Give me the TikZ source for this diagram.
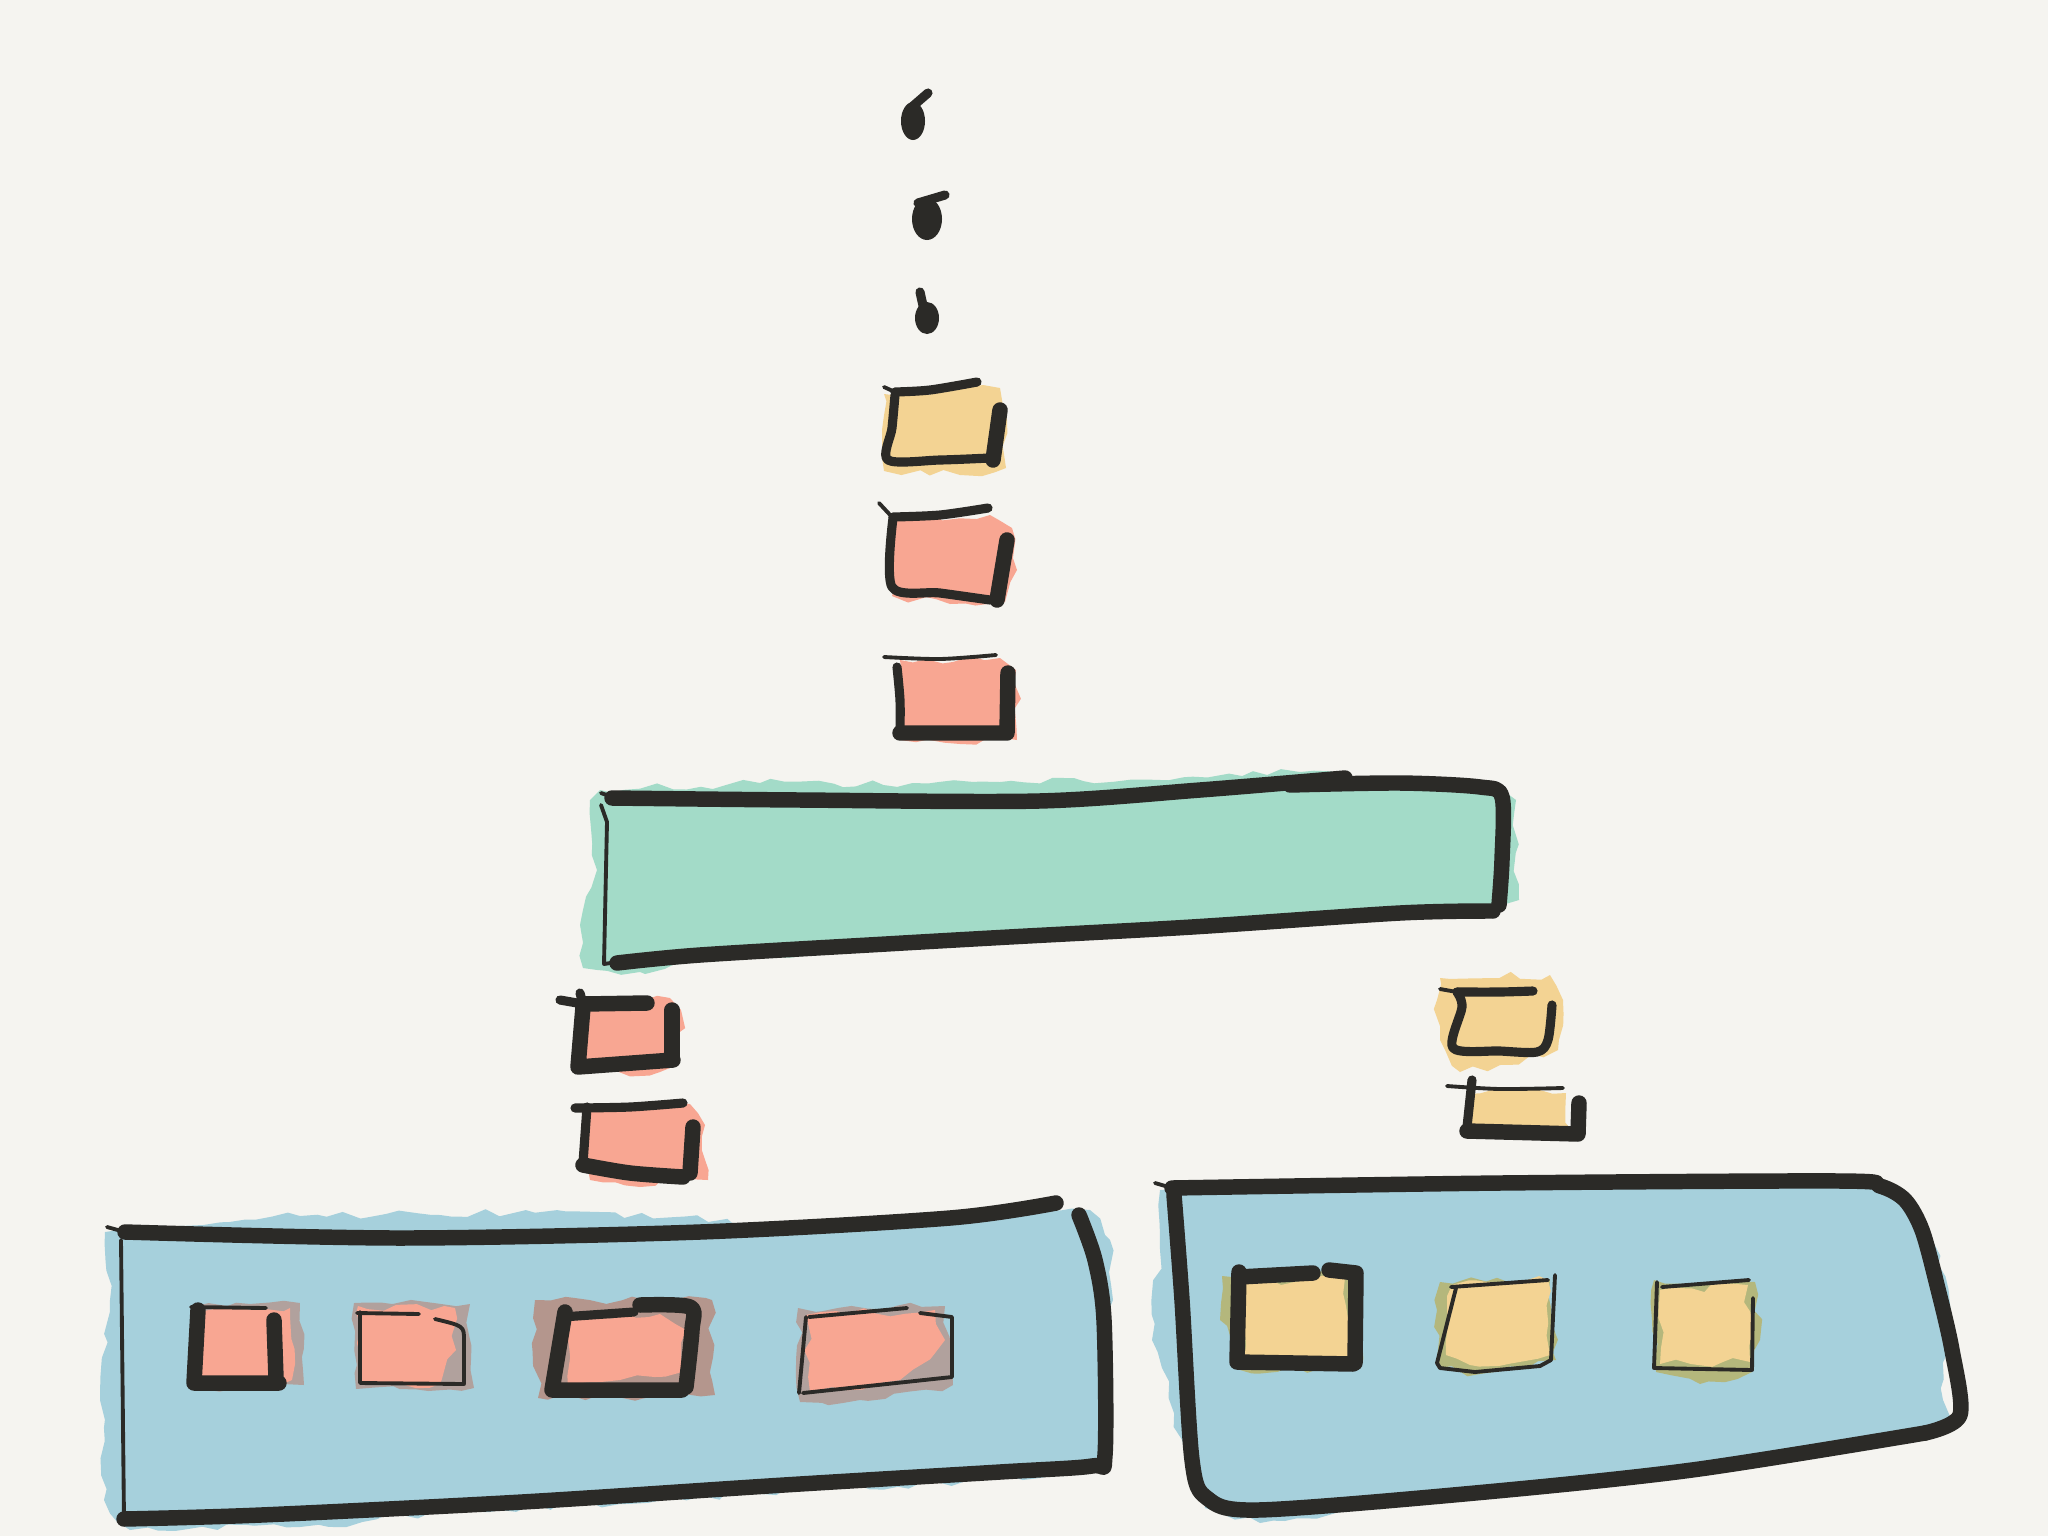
\documentclass[tikz,border=0pt]{standalone}
\usepackage{xcolor}
\usepackage{tikz}
\usetikzlibrary{decorations.pathmorphing}

\definecolor{paper}{HTML}{F5F4F0}
\definecolor{ink}{HTML}{2B2A27}
\definecolor{sand}{HTML}{F3D393}
\definecolor{salmon}{HTML}{F8A692}
\definecolor{mint}{HTML}{A3DBC8}
\definecolor{sky}{HTML}{A6D0DC}
\definecolor{olive}{HTML}{B4B77C}
\definecolor{rust}{HTML}{B98373}

\tikzset{
  wash/.style={fill=#1, decorate, decoration={random steps, segment length=4pt, amplitude=1.3pt}},
  fat/.style={draw=ink, line width=4.4pt, line cap=round, line join=round},
  mid/.style={draw=ink, line width=2.6pt, line cap=round, line join=round},
  fine/.style={draw=ink, line width=1.1pt, line cap=round, line join=round}
}

\begin{document}
\begin{tikzpicture}[x=0.01cm, y=-0.01cm]
  \pgfmathsetseed{42}
  \fill[paper] (0,0) rectangle (2048,1536);
  \useasboundingbox (0,0) rectangle (2048,1536);

  \fill[ink] (913,121) ellipse [x radius=0.12cm, y radius=0.19cm];
  \draw[mid] (913,106) -- (928,93);
  \fill[ink] (927,219) ellipse [x radius=0.15cm, y radius=0.21cm];
  \draw[mid] (918,203) -- (945,195);
  \fill[ink] (927,318) ellipse [x radius=0.12cm, y radius=0.16cm];
  \draw[mid] (920,292) -- (924,310);

  \path[wash=sand] (884,394) -- (1000,388) -- (1007,420) -- (1006,468) -- (960,475) -- (884,471) -- (882,430) -- cycle;
  \draw[fine] (884,387) -- (895,392);
  \draw[mid] plot[smooth] coordinates {(895,392) (930,390) (977,382)};
  \draw[mid] plot[smooth] coordinates {(895,395) (892,428) (888,460) (940,460) (990,458)};
  \draw[fat] (1000,410) -- (993,460);

  \path[wash=salmon] (890,520) -- (990,515) -- (1012,528) -- (1017,570) -- (1005,602) -- (950,604) -- (892,596) -- (889,560) -- cycle;
  \draw[fine] (879,503) -- (892,517);
  \draw[mid] plot[smooth] coordinates {(893,517) (940,515) (988,508)};
  \draw[mid] plot[smooth] coordinates {(893,518) (892,587) (940,593) (990,600)};
  \draw[fat] (1007,540) -- (997,600);

  \path[wash=salmon] (900,660) -- (1000,658) -- (1016,670) -- (1017,740) -- (960,744) -- (900,740) -- (897,700) -- cycle;
  \draw[fine] plot[smooth] coordinates {(884,657) (940,659) (996,655)};
  \draw[mid] plot[smooth] coordinates {(897,667) (900,700) (900,730)};
  \draw[fat] (900,733) -- (1007,733) -- (1008,673);

  \path[wash=mint] (600,790) -- (760,783) -- (1000,782) -- (1300,772) -- (1500,788) -- (1516,800) -- (1519,900) -- (1495,913) -- (1200,925) -- (900,940) -- (640,972) -- (583,968) -- (580,925) -- (597,870) -- (590,800) -- cycle;
  \draw[fine] (601,793) -- (612,797);
  \draw[fat] plot[smooth] coordinates {(612,798) (800,800) (1039,801) (1200,790) (1345,778)};
  \draw[fat] plot[smooth] coordinates {(1290,785) (1400,783) (1480,787) (1502,797) (1502,860) (1499,905)};
  \draw[fat] plot[smooth] coordinates {(1493,911) (1400,913) (1192,927) (1009,937) (886,944) (700,955) (617,963)};
  \draw[fine] (601,805) -- (607,822) -- (604,964) -- (617,962);

  \path[wash=salmon] (584,1000) -- (670,998) -- (681,1010) -- (680,1060) -- (660,1072) -- (585,1073) -- (580,1030) -- cycle;
  \draw[mid] (560,1000) -- (583,1004);
  \draw[mid] (580,993) -- (583,1004);
  \draw[fat] (583,1004) -- (647,1003);
  \draw[fat] (583,1007) -- (578,1067) -- (673,1060);
  \draw[fat] (672,1010) -- (672,1057);

  \path[wash=salmon] (592,1108) -- (690,1104) -- (705,1125) -- (708,1180) -- (640,1187) -- (590,1180) -- (588,1140) -- cycle;
  \draw[mid] plot[smooth] coordinates {(575,1108) (630,1107) (683,1103)};
  \draw[mid] (587,1107) -- (583,1163);
  \draw[fat] plot[smooth] coordinates {(583,1165) (630,1173) (683,1177)};
  \draw[fat] (693,1127) -- (690,1173);

  \path[wash=sand] (1440,978) -- (1550,975) -- (1563,1000) -- (1558,1050) -- (1500,1065) -- (1460,1072) -- (1440,1040) -- (1437,1000) -- cycle;
  \draw[fine] (1440,989) -- (1457,992);
  \draw[mid] plot[smooth] coordinates {(1457,992) (1500,992) (1533,991)};
  \draw[mid] plot[smooth] coordinates {(1457,992) (1462,1007) (1453,1048) (1500,1051) (1537,1052) (1548,1040) (1552,1005)};

  \path[wash=sand] (1466,1094) -- (1566,1093) -- (1570,1128) -- (1470,1130) -- cycle;
  \draw[fine] plot[smooth] coordinates {(1447,1086) (1500,1089) (1563,1088)};
  \draw[mid] (1472,1080) -- (1467,1127);
  \draw[fat] (1467,1131) -- (1578,1134) -- (1579,1103);

  \path[wash=sky] (105,1232) -- (300,1216) -- (600,1212) -- (750,1224) -- (1090,1210) -- (1110,1240) -- (1113,1300) -- (1100,1380) -- (1112,1460) -- (1080,1475) -- (800,1490) -- (500,1510) -- (300,1527) -- (130,1530) -- (104,1500) -- (100,1400) -- (110,1300) -- cycle;
  \draw[fine] (107,1227) -- (125,1232);
  \draw[fat] plot[smooth] coordinates {(125,1232) (400,1238) (700,1232) (950,1218) (1056,1203)};
  \draw[fat] plot[smooth] coordinates {(1079,1215) (1095,1260) (1104,1320) (1105,1455) (1092,1466) (1000,1472) (784,1485) (522,1502) (261,1515) (124,1519)};
  \draw[fine] (121,1240) -- (124,1519);

  \path[wash=rust, opacity=0.6] (196,1306) -- (300,1303) -- (304,1385) -- (196,1390) -- cycle;
  \path[wash=salmon] (198,1312) -- (290,1308) -- (292,1380) -- (200,1384) -- cycle;
  \draw[fine] (191,1307) -- (266,1308);
  \draw[fat] (198,1310) -- (194,1383) -- (279,1383);
  \draw[fat] (274,1320) -- (276,1378);

  \path[wash=rust, opacity=0.6] (354,1303) -- (470,1304) -- (474,1388) -- (356,1389) -- cycle;
  \path[wash=salmon] (358,1306) -- (455,1308) -- (456,1350) -- (440,1384) -- (362,1384) -- cycle;
  \draw[fine] (357,1313) -- (419,1314);
  \draw[fine] (360,1312) -- (360,1383) -- (464,1384) -- (464,1340) .. controls (464,1326) .. (435,1319);

  \path[wash=rust, opacity=0.75] (535,1300) -- (712,1300) -- (715,1395) -- (538,1398) -- cycle;
  \path[wash=salmon] (566,1318) -- (660,1314) -- (686,1330) -- (682,1372) -- (620,1380) -- (568,1388) -- cycle;
  \draw[mid] (562,1317) -- (634,1312);
  \draw[fat] plot[smooth] coordinates {(640,1305) (690,1307) (692,1330) (686,1387)};
  \draw[fat] (565,1312) -- (552,1390) -- (682,1390);

  \path[wash=rust, opacity=0.6] (798,1308) -- (945,1306) -- (953,1385) -- (860,1400) -- (800,1402) -- cycle;
  \path[wash=salmon] (806,1315) -- (935,1310) -- (945,1340) -- (900,1380) -- (810,1392) -- cycle;
  \draw[fine] (809,1317) -- (907,1308);
  \draw[fine] (920,1313) -- (952,1317) -- (952,1377) -- (803,1393);
  \draw[fine] (806,1317) -- (799,1393);

  \path[wash=sky] (1160,1190) -- (1500,1181) -- (1870,1181) -- (1905,1195) -- (1932,1240) -- (1952,1320) -- (1943,1400) -- (1955,1428) -- (1900,1440) -- (1700,1470) -- (1480,1495) -- (1260,1523) -- (1205,1508) -- (1185,1450) -- (1152,1340) -- (1160,1250) -- cycle;
  \draw[fine] (1155,1183) -- (1172,1188);
  \draw[fat] plot[smooth] coordinates {(1172,1188) (1500,1183) (1840,1181) (1880,1186) (1905,1200) (1922,1230) (1937,1285) (1952,1350) (1960,1415) (1925,1433)};
  \draw[fat] plot[smooth] coordinates {(1925,1433) (1692,1470) (1475,1493) (1258,1510) (1207,1498) (1192,1460) (1182,1300) (1174,1195)};
  \draw[fine] (1935,1432) -- (1963,1418);

  \path[wash=olive] (1222,1276) -- (1350,1270) -- (1362,1300) -- (1360,1368) -- (1240,1370) -- (1220,1320) -- cycle;
  \path[wash=sand] (1242,1282) -- (1345,1278) -- (1352,1360) -- (1244,1358) -- cycle;
  \draw[fat] (1239,1277) -- (1313,1273);
  \draw[fat] (1329,1270) -- (1356,1273) -- (1355,1363);
  \draw[fat] (1239,1272) -- (1237,1362) -- (1353,1364);

  \path[wash=olive] (1440,1282) -- (1550,1280) -- (1556,1360) -- (1480,1374) -- (1438,1368) -- (1437,1310) -- cycle;
  \path[wash=sand] (1452,1285) -- (1548,1280) -- (1550,1355) -- (1470,1365) -- (1446,1355) -- cycle;
  \draw[fine] (1451,1287) -- (1548,1280);
  \draw[fine] (1555,1275) -- (1551,1360) -- (1540,1366) -- (1475,1372) -- (1440,1368) -- (1437,1363) -- (1456,1288);

  \path[wash=olive] (1654,1280) -- (1755,1282) -- (1760,1340) -- (1752,1372) -- (1700,1384) -- (1656,1372) -- (1652,1320) -- cycle;
  \path[wash=sand] (1660,1290) -- (1748,1285) -- (1750,1362) -- (1660,1364) -- cycle;
  \draw[fine] (1662,1287) -- (1749,1280);
  \draw[fine] (1657,1282) -- (1654,1368) -- (1752,1370) -- (1753,1298);
\end{tikzpicture}
\end{document}
